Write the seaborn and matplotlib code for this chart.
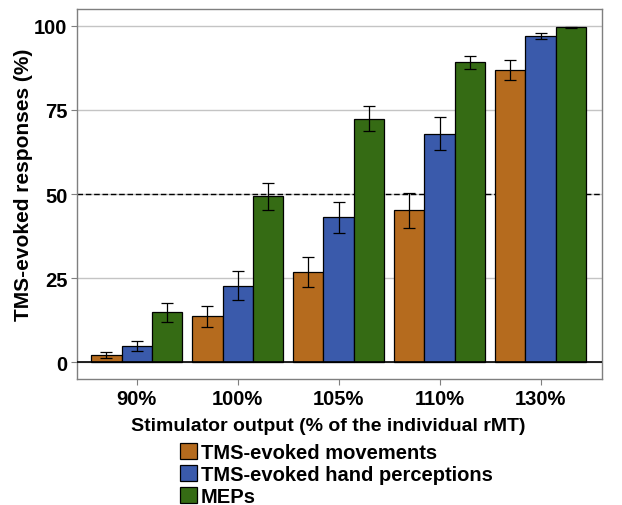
import pandas as pd
import numpy as np
import matplotlib.pyplot as plt
import seaborn as sns

# ---------- data ----------
stim_levels = ["90%", "100%", "105%", "110%", "130%"]
measures = ["TMS-evoked movements", "TMS-evoked hand perceptions", "MEPs"]

movements = [2.1, 13.6, 26.8, 45.2, 86.8]
movements_err = [1.0, 3.2, 4.4, 5.2, 3.0]
perceptions = [4.8, 22.8, 43.1, 68.0, 97.0]
perceptions_err = [1.6, 4.2, 4.6, 4.9, 0.8]
meps = [14.8, 49.4, 72.4, 89.2, 99.6]
meps_err = [2.8, 4.0, 3.7, 2.0, 0.2]

bar_colors = ["#B56B1E", "#3A5AAB", "#356B14"]

df = pd.DataFrame({
    "stim": stim_levels * 3,
    "measure": np.repeat(measures, len(stim_levels)),
    "value": movements + perceptions + meps,
    "err": movements_err + perceptions_err + meps_err,
})

# ---------- plot ----------
sns.set_style("white")
plt.rcParams["font.family"] = ["Liberation Sans", "DejaVu Sans"]
plt.rcParams["font.weight"] = "bold"
plt.rcParams["text.color"] = "black"
plt.rcParams["axes.labelcolor"] = "black"
plt.rcParams["xtick.labelcolor"] = "black"
plt.rcParams["ytick.labelcolor"] = "black"

fig = plt.figure(figsize=(6.22, 5.06), dpi=100)
ax = fig.add_axes([0.124, 0.249, 0.844, 0.731])

sns.barplot(data=df, x="stim", y="value", hue="measure", order=stim_levels,
            hue_order=measures, palette=bar_colors, width=0.9, errorbar=None,
            edgecolor="black", linewidth=0.9, saturation=1, ax=ax, zorder=3)

# error bars on top of each bar
for cont, m in zip(ax.containers, measures):
    sub = df[df["measure"] == m].set_index("stim").loc[stim_levels]
    xs = [p.get_x() + p.get_width() / 2 for p in cont.patches]
    ax.errorbar(xs, sub["value"], yerr=sub["err"], fmt="none", ecolor="black",
                elinewidth=0.9, capsize=4, capthick=0.9, zorder=4)

ax.set_ylim(-5, 105)
ax.set_xlim(-0.59, 4.61)
ax.set_yticks([0, 25, 50, 75, 100])
ax.yaxis.grid(True, color="#C4C4C4", linewidth=1, zorder=0)
ax.axhline(50, color="black", linestyle=(0, (4, 2)), linewidth=1, zorder=2)
ax.axhline(0, color="black", linewidth=1.2, zorder=5)

for s in ax.spines.values():
    s.set_color("#7F7F7F")
    s.set_linewidth(1)

ax.tick_params(axis="both", length=4, color="#7F7F7F", labelsize=14.5,
               left=True, bottom=True, pad=3)
for lab in ax.get_xticklabels() + ax.get_yticklabels():
    lab.set_fontweight("bold")

ax.set_xlabel("Stimulator output (% of the individual rMT)", fontsize=14,
              fontweight="bold")
ax.xaxis.set_label_coords(0.478, -0.103)
ax.set_ylabel("TMS-evoked responses (%)", fontsize=15, fontweight="bold")
ax.yaxis.set_label_coords(-0.084, 0.527)

handles, labels = ax.get_legend_handles_labels()
ax.get_legend().remove()
fig.legend(handles, labels, loc="upper left", bbox_to_anchor=(0.29, 0.123),
           frameon=False, handlelength=0.85, handleheight=0.85,
           handletextpad=0.15, labelspacing=0.15, borderpad=0, borderaxespad=0,
           prop={"weight": "bold", "size": 14.5})

fig.savefig("out.png", dpi=100)
